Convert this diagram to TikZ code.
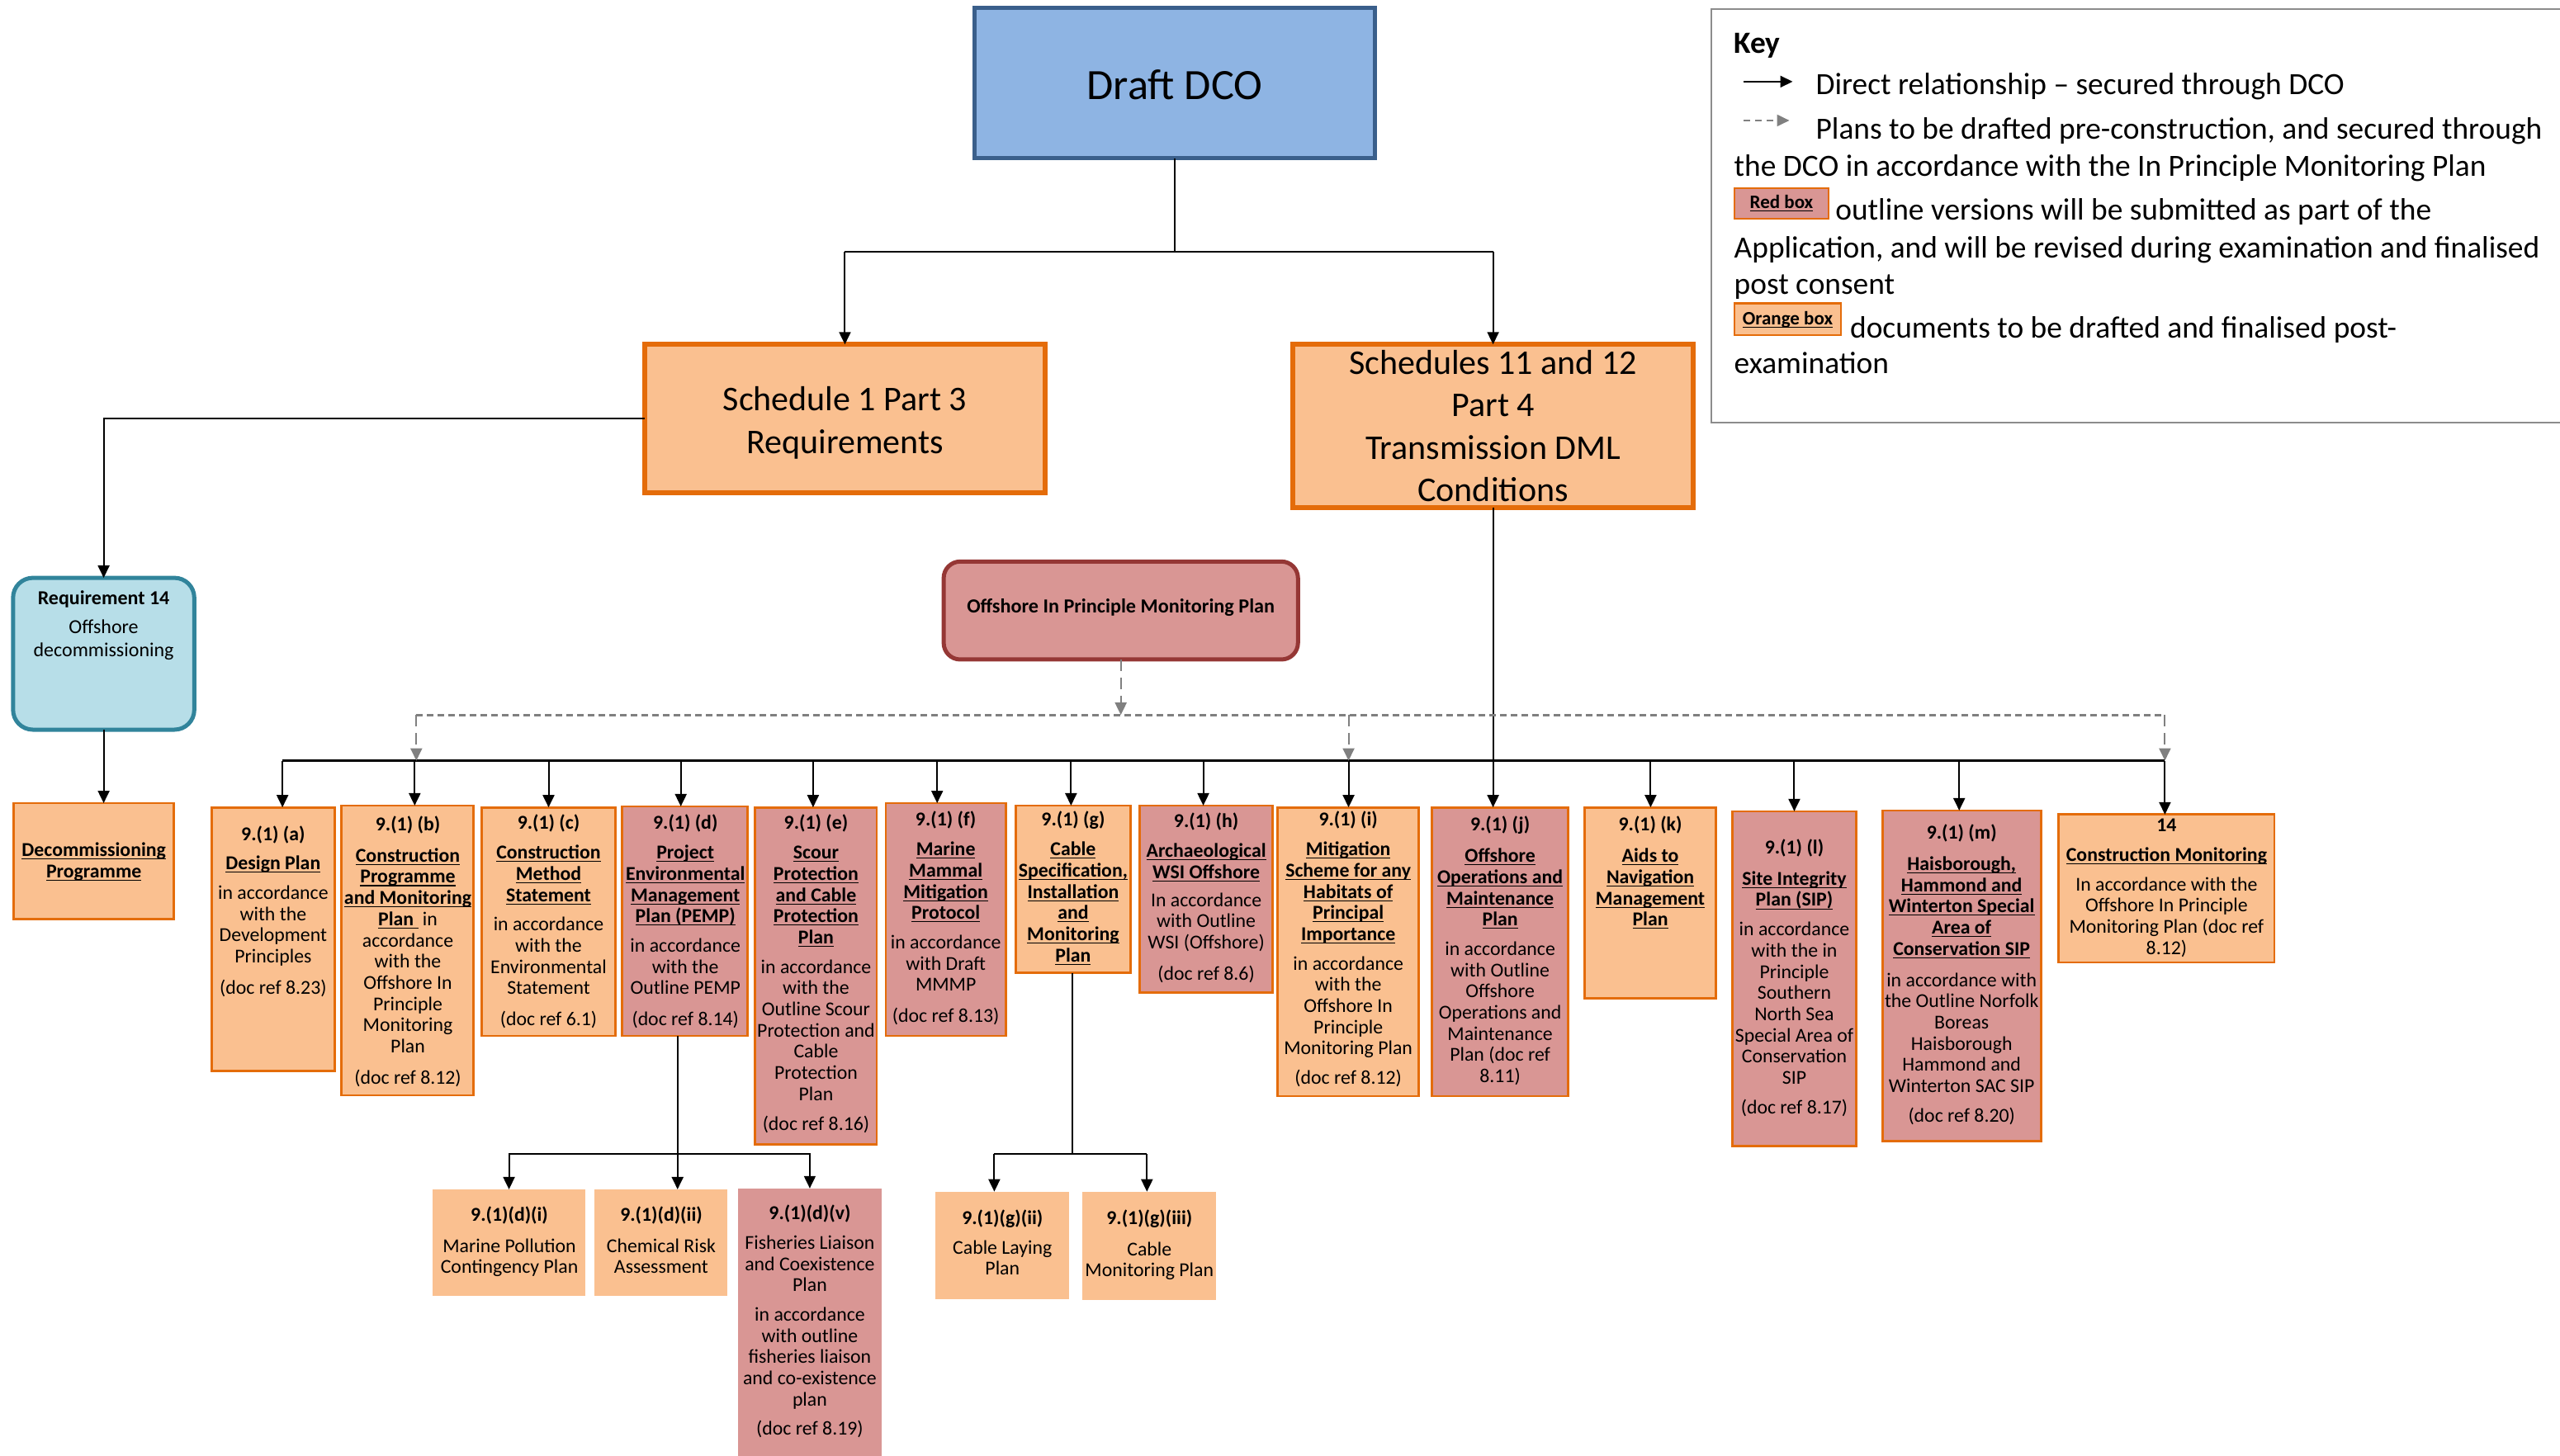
\documentclass[tikz,border=0pt]{standalone}
\usepackage{fontspec}
\setmainfont{Carlito}
\usetikzlibrary{arrows.meta,fit}
\definecolor{forange}{HTML}{FAC090}
\definecolor{fred}{HTML}{D99694}
\definecolor{borange}{HTML}{E46C0A}
\definecolor{fblue}{HTML}{8EB4E3}
\definecolor{bblue}{HTML}{3A5F8B}
\definecolor{flight}{HTML}{B7DEE8}
\definecolor{bteal}{HTML}{31849B}
\definecolor{bred}{HTML}{953735}
\definecolor{dgray}{HTML}{808080}
\definecolor{kgray}{HTML}{8C8C8C}
\newsavebox\myulbox
\newcommand\uln[1]{\sbox\myulbox{#1}\rlap{\rule[-1.8pt]{\wd\myulbox}{0.55pt}}\usebox\myulbox}
\newcommand\bt[1]{\textbf{#1}}
\newcommand\bu[1]{\uln{\textbf{#1}}}
\begin{document}
\begin{tikzpicture}[x=0.98885pt,y=-0.98885pt,
  box/.style={inner sep=0pt, outer sep=0pt},
  obox/.style={box, draw=borange, fill=forange, line width=1.4pt},
  rbox/.style={box, draw=borange, fill=fred, line width=1.4pt},
  pbox/.style={box, fill=forange},
  prbox/.style={box, fill=fred},
  txt/.style={align=center, inner sep=0pt, anchor=north, font=\fontsize{11.9}{12.85}\selectfont},
  keytxt/.style={anchor=west, inner sep=0pt, text height=13pt, text depth=4pt, font=\fontsize{18.7}{22}\selectfont},
  line/.style={line width=1pt, black},
  arr/.style={line width=1pt, black, -{Triangle[length=7.5pt,width=7pt]}},
  dline/.style={line width=1.4pt, dgray, dash pattern=on 4pt off 2.5pt},
  darr/.style={line width=1pt, dgray, dash pattern=on 7pt off 4pt, -{Triangle[length=7.5pt,width=7pt]}},
]
\useasboundingbox (0,0) rectangle (1568,891.5);

% ---------- top level ----------
\node[box, draw=bblue, fill=fblue, line width=2.5pt, fit={(597,5) (842,97)}] (dco) {};
\node[font=\fontsize{26.2}{30}\selectfont, inner sep=0pt] (dcot) at (719.5,52) {Draft DCO};

\node[box, draw=borange, fill=forange, line width=3pt, fit={(395,211) (640,302)}] (sch1) {};
\node[align=center, inner sep=0pt, font=\fontsize{21}{25.7}\selectfont] (sch1t) at (517.5,259) {Schedule 1 Part 3\\Requirements};

\node[box, draw=borange, fill=forange, line width=3pt, fit={(792,211) (1037,311)}] (sch11) {};
\node[align=center, inner sep=0pt, font=\fontsize{21}{25.7}\selectfont] (sch11t) at (914.5,261) {Schedules 11 and 12\\Part 4\\Transmission DML\\Conditions};

\node[box, draw=bteal, fill=flight, line width=2.5pt, rounded corners=12pt, fit={(8,354) (119,447)}] (req) {};
\node[txt, font=\fontsize{12}{14.2}\selectfont] (reqt) at (63.5,361.5) {\bt{Requirement 14}\\[3.5pt]Offshore\\decommissioning};

\node[obox, fit={(8.4,492) (106.5,563)}] (decom) {};
\node[align=center, inner sep=0pt, font=\fontsize{11.9}{12.85}\selectfont] (decomt) at (57.5,528) {\bu{Decommissioning}\\\bu{Programme}};

\node[box, draw=bred, fill=fred, line width=2.5pt, rounded corners=10pt, fit={(578,344) (795,404)}] (ipmp) {};
\node[inner sep=0pt, font=\fontsize{12.1}{13}\selectfont\bfseries] (ipmpt) at (686.5,372) {Offshore In Principle Monitoring Plan};

% ---------- key ----------
\node[box, draw=kgray, line width=0.9pt, fit={(1048,5.6) (1590,259)}] (key) {};
\node[keytxt] (k0) at (1062,28) {\bfseries Key};
\coordinate (ka) at (1068,50);
\coordinate (kb) at (1098,50);
\draw[arr] (ka) -- (kb);
\node[keytxt] (k1) at (1112,53.5) {Direct relationship – secured through DCO};
\coordinate (kc) at (1068,73.8);
\coordinate (kd) at (1096,73.8);
\draw[darr, dash pattern=on 4pt off 3pt] (kc) -- (kd);
\node[keytxt] (k2) at (1112,80.5) {Plans to be drafted pre-construction, and secured through};
\node[keytxt] (k3) at (1062,103.3) {the DCO in accordance with the In Principle Monitoring Plan};
\node[obox, fill=fred, fit={(1062.3,115.3) (1120,134)}] (kred) {};
\node[inner sep=0pt, font=\fontsize{11.5}{12}\selectfont] (kredt) at (kred.center) {\bu{Red box}};
\node[keytxt] (k4) at (1124,130.3) {outline versions will be submitted as part of the};
\node[keytxt] (k5) at (1062,153.5) {Application, and will be revised during examination and finalised};
\node[keytxt] (k6) at (1062,175.5) {post consent};
\node[obox, fit={(1062.3,186) (1127.6,205.3)}] (kor) {};
\node[inner sep=0pt, font=\fontsize{11.5}{12}\selectfont] (kort) at (kor.center) {\bu{Orange box}};
\node[keytxt] (k7) at (1133,202.3) {documents to be drafted and finalised post-};
\node[keytxt] (k8) at (1062,224.5) {examination};

% ---------- row of conditions ----------
\node[obox, fit={(129.5,494.6) (205,656)}] (a) {};
\node[txt] (at) at (167.3,505.7) {\bt{9.(1) (a)}\\[5pt]\bu{Design Plan}\\[5pt]in accordance\\with the\\Development\\Principles\\[6pt](doc ref 8.23)};

\node[obox, fit={(209,493.5) (290,671)}] (b) {};
\node[txt] (bt) at (249.8,499.8) {\bt{9.(1) (b)}\\[6pt]\bu{Construction}\\\bu{Programme}\\\bu{and Monitoring}\\\uln{\textbf{Plan}\ }\ in\\accordance\\with the\\Offshore In\\Principle\\Monitoring\\Plan\\[6pt](doc ref 8.12)};

\node[obox, fit={(295,494.6) (377,634.6)}] (c) {};
\node[txt] (ct) at (336,499) {\bt{9.(1) (c)}\\[5pt]\bu{Construction}\\\bu{Method}\\\bu{Statement}\\[5pt]in accordance\\with the\\Environmental\\Statement\\[6pt](doc ref 6.1)};

\node[rbox, fit={(381,494) (458,634.6)}] (d) {};
\node[txt] (dt) at (419.8,499) {\bt{9.(1) (d)}\\[5pt]\bu{Project}\\\bu{Environmental}\\\bu{Management}\\\bu{Plan (PEMP)}\\[5pt]in accordance\\with the\\Outline PEMP\\[6pt](doc ref 8.14)};

\node[rbox, fit={(462.6,494.6) (537,701)}] (e) {};
\node[txt] (et) at (499.8,499) {\bt{9.(1) (e)}\\[5pt]\bu{Scour}\\\bu{Protection}\\\bu{and Cable}\\\bu{Protection}\\\bu{Plan}\\[5pt]in accordance\\with the\\Outline Scour\\Protection and\\Cable\\Protection\\Plan\\[5pt](doc ref 8.16)};

\node[rbox, fit={(542.5,492) (616,634.6)}] (f) {};
\node[txt] (ft) at (579.3,497) {\bt{9.(1) (f)}\\[5pt]\bu{Marine}\\\bu{Mammal}\\\bu{Mitigation}\\\bu{Protocol}\\[5pt]in accordance\\with Draft\\MMMP\\[6pt](doc ref 8.13)};

\node[obox, fit={(622,493.5) (692.6,596)}] (g) {};
\node[txt] (gt) at (657.3,497) {\bt{9.(1) (g)}\\[5pt]\bu{Cable}\\\bu{Specification,}\\\bu{Installation}\\\bu{and}\\\bu{Monitoring}\\\bu{Plan}};

\node[rbox, fit={(698,493.5) (779.6,608)}] (h) {};
\node[txt] (ht) at (738.8,498) {\bt{9.(1) (h)}\\[5pt]\bu{Archaeological}\\\bu{WSI Offshore}\\[4pt]In accordance\\with Outline\\WSI (Offshore)\\[6pt](doc ref 8.6)};

\node[obox, fit={(782.5,494.6) (869,671.5)}] (i) {};
\node[txt] (it) at (825.8,497) {\bt{9.(1) (i)}\\[5pt]\bu{Mitigation}\\\bu{Scheme for any}\\\bu{Habitats of}\\\bu{Principal}\\\bu{Importance}\\[5pt]in accordance\\with the\\Offshore In\\Principle\\Monitoring Plan\\[5pt](doc ref 8.12)};

\node[rbox, fit={(877,494.6) (960.5,671.5)}] (j) {};
\node[txt] (jt) at (918.8,500) {\bt{9.(1) (j)}\\[6pt]\bu{Offshore}\\\bu{Operations and}\\\bu{Maintenance}\\\bu{Plan}\\[5pt]in accordance\\with Outline\\Offshore\\Operations and\\Maintenance\\Plan (doc ref\\8.11)};

\node[obox, fit={(970.6,494.6) (1051,611.5)}] (k) {};
\node[txt] (kt) at (1010.8,500) {\bt{9.(1) (k)}\\[6pt]\bu{Aids to}\\\bu{Navigation}\\\bu{Management}\\\bu{Plan}};

\node[rbox, fit={(1061,497) (1137,702)}] (l) {};
\node[txt] (lt) at (1099,514) {\bt{9.(1) (l)}\\[6pt]\bu{Site Integrity}\\\bu{Plan (SIP)}\\[5pt]in accordance\\with the in\\Principle\\Southern\\North Sea\\Special Area of\\Conservation\\SIP\\[5pt](doc ref 8.17)};

\node[rbox, fit={(1153,496.5) (1250,699)}] (m) {};
\node[txt] (mt) at (1201.5,505) {\bt{9.(1) (m)}\\[6pt]\bu{Haisborough,}\\\bu{Hammond and}\\\bu{Winterton Special}\\\bu{Area of}\\\bu{Conservation SIP}\\[6pt]in accordance with\\the Outline Norfolk\\Boreas\\Haisborough\\Hammond and\\Winterton SAC SIP\\[5pt](doc ref 8.20)};

\node[obox, fit={(1261,499) (1393,589.6)}] (n14) {};
\node[txt] (n14t) at (1327,501.5) {\bt{14}\\[5pt]\bu{Construction Monitoring}\\[5pt]In accordance with the\\Offshore In Principle\\Monitoring Plan (doc ref\\8.12)};

% ---------- sub-plans ----------
\node[pbox, fit={(265,728.6) (358.5,794)}] (di) {};
\node[txt] (dit) at (312,739) {\bt{9.(1)(d)(i)}\\[6pt]Marine Pollution\\Contingency Plan};
\node[pbox, fit={(364,728.6) (445.6,794)}] (dii) {};
\node[txt] (diit) at (405,739) {\bt{9.(1)(d)(ii)}\\[6pt]Chemical Risk\\Assessment};
\node[prbox, fit={(452,728) (540,895)}] (dv) {};
\node[txt] (dvt) at (496,738) {\bt{9.(1)(d)(v)}\\[5pt]Fisheries Liaison\\and Coexistence\\Plan\\[5pt]in accordance\\with outline\\fisheries liaison\\and co-existence\\plan\\[5pt](doc ref 8.19)};
\node[pbox, fit={(573,730) (655,796)}] (gii) {};
\node[txt] (giit) at (614,741) {\bt{9.(1)(g)(ii)}\\[5pt]Cable Laying\\Plan};
\node[pbox, fit={(663,730) (745,796.5)}] (giii) {};
\node[txt] (giiit) at (704,741) {\bt{9.(1)(g)(iii)}\\[6pt]Cable\\Monitoring Plan};

% ---------- connectors ----------
\coordinate (tL) at (517.5,154);
\coordinate (tR) at (914.5,154);
\draw[line] (dco.south) -- (dco.south |- tL);
\draw[line] (tL) -- (tR);
\draw[arr] (tL) -- (sch1.north);
\draw[arr] (tR) -- (sch11.north);
\draw[arr] (sch1.west) -| (req.north);
\draw[arr] (req.south) -- (req.south |- decom.north);

% bus
\coordinate (pa) at (173,466);
\coordinate (pb) at (254,466);
\coordinate (pc) at (336,466);
\coordinate (pd) at (417,466);
\coordinate (pe) at (498,466);
\coordinate (pf) at (574,466);
\coordinate (pg) at (656,466);
\coordinate (ph) at (737,466);
\coordinate (pi) at (826,466);
\coordinate (pk) at (1011,466);
\coordinate (pl) at (1099,466);
\coordinate (pm) at (1200,466);
\coordinate (pn) at (1326,466);
\draw[line, line width=1.3pt] (pa) -- (pn);
\draw[arr] (sch11.south) -- (sch11.south |- j.north);
\draw[arr] (pa) -- (pa |- a.north);
\draw[arr] (pb) -- (pb |- b.north);
\draw[arr] (pc) -- (pc |- c.north);
\draw[arr] (pd) -- (pd |- d.north);
\draw[arr] (pe) -- (pe |- e.north);
\draw[arr] (pf) -- (pf |- f.north);
\draw[arr] (pg) -- (pg |- g.north);
\draw[arr] (ph) -- (ph |- h.north);
\draw[arr] (pi) -- (pi |- i.north);
\draw[arr] (pk) -- (pk |- k.north);
\draw[arr] (pl) -- (pl |- l.north);
\draw[arr] (pm) -- (pm |- m.north);
\draw[arr] (pn) -- (pn |- n14.north);

% dashed monitoring-plan links
\coordinate (dl) at (255,438);
\coordinate (dm) at (826,438);
\coordinate (dr) at (1326,438);
\draw[dline] (dl) -- (dr);
\draw[darr] (ipmp.south) -- (ipmp.south |- dl);
\draw[darr] (dl) -- (dl |- pa);
\draw[darr] (dm) -- (dm |- pa);
\draw[darr] (dr) -- (dr |- pa);

% d branch
\coordinate (dj) at (415,707);
\draw[line] (dj |- d.south) -- (dj);
\draw[arr] (dj) -| (di.north);
\draw[arr] (dj) -- (dj |- dii.north);
\draw[arr] (dj) -| (dv.north);

% g branch
\coordinate (gj) at (657,707);
\coordinate (gL) at (609,707);
\coordinate (gR) at (702.5,707);
\draw[line] (gj |- g.south) -- (gj);
\draw[line] (gL) -- (gR);
\draw[arr] (gL) -- (gL |- gii.north);
\draw[arr] (gR) -- (gR |- giii.north);
\end{tikzpicture}
\end{document}
